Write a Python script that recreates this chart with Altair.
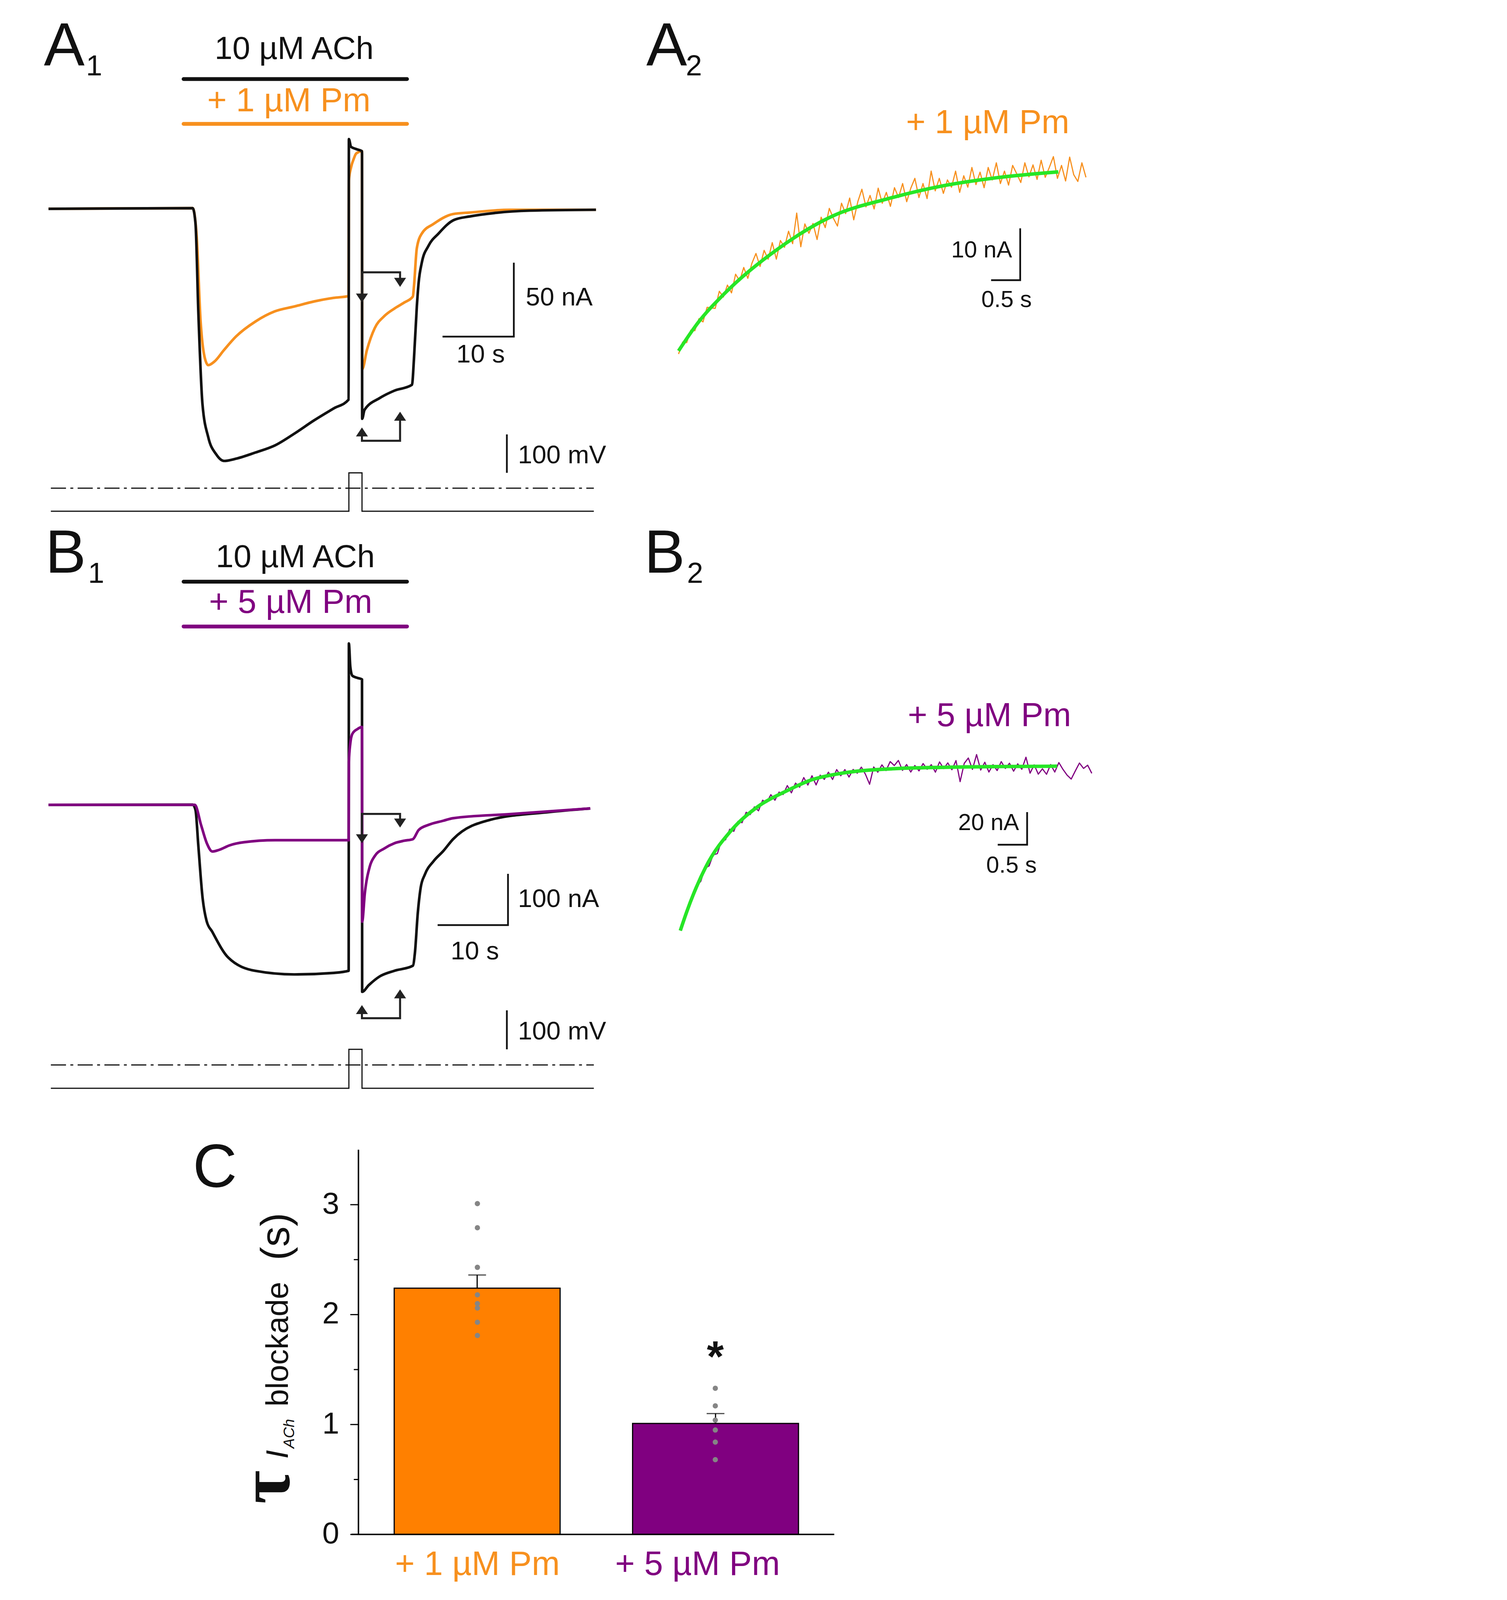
import altair as alt
import pandas as pd

FONT = "Liberation Sans"
SERIF = "Liberation Serif"
ORANGE = "#f7901e"
ORANGE_BAR = "#ff8000"
PURPLE = "#800080"
GREEN = "#26e626"
GREY = "#858585"
INK = "#111111"
ARROW = "#222222"

# ---------------- Panel A1 (time in s, current in nA) ----------------
a1_ach_t = [0, 20.3, 20.7, 21.1, 21.68, 22.5, 23.61, 24.71, 26.39, 29.14, 31.89, 34.63, 37.42, 40.16, 42.27,
            42.3, 42.6, 43.3, 44.15,
            44.17, 44.5, 46.63, 48.69, 51.19, 51.46, 51.87, 52.13, 52.57, 53.52, 54.92, 57.1, 59.47, 62.79, 67.75, 77.1]
a1_ach_i = [0, 0.5, -10, -70, -132, -154.5, -166, -170.5, -169, -164.8, -160, -152, -143, -135, -129,
            47.2, 42, 40.5, 39,
            -142, -136, -128, -123, -119, -102, -66, -49.6, -36.4, -24.9, -16.7, -7.5, -5, -2.8, -1.2, -0.6]
a1_pm_t = [0, 20.3, 20.86, 21.4, 21.97, 22.5, 23.36, 24.71, 26.39, 29.14, 31.89, 34.63, 37.42, 40.16, 42.27,
           42.3, 42.6, 43.0, 43.32, 44.15,
           44.17, 44.84, 45.94, 47.32, 48.69, 50.08, 51.31, 51.46, 51.87, 52.57, 54.22, 56.97, 59.47, 65.0, 77.1]
a1_pm_i = [0, 0.5, -18.3, -75, -100, -105.7, -103.3, -95.5, -86.4, -76.2, -69.3, -66, -62.6, -60.2, -59,
           19.3, 28, 34, 37.4, 39,
           -108.5, -95.5, -80.7, -72.4, -67.5, -63.4, -59.3, -52.8, -26.6, -16.7, -10.2, -3.5, -2.4, -0.6, -0.6]

# ---------------- Panel B1 ----------------
b1_ach_t = [0, 20.3, 20.7, 21.1, 21.7, 22.25, 23.07, 25.3, 29.1, 34.6, 40.2, 42.27,
            42.3, 42.5, 42.8, 43.5, 44.15,
            44.17, 45.1, 46.63, 48.69, 51.31, 51.6, 52.0, 52.42, 53.0, 54.22, 55.6, 56.97, 62.25, 70.5, 76.3]
b1_ach_i = [0, 0.5, -10, -80, -182, -226, -248, -298, -324, -331, -328, -324,
            315, 270, 252, 248, 245,
            -365, -352, -335, -324, -314, -289, -212, -161, -136, -110, -90, -67, -29, -14, -7]
b1_pm_t = [0, 20.6, 21.5, 22.3, 23.07, 24.0, 25.5, 27.5, 31.9, 37.4, 42.27,
           42.3, 42.5, 42.8, 43.5, 44.15,
           44.17, 44.55, 45.25, 45.94, 47.3, 48.69, 50.08, 51.31, 52.13, 53.52, 55.6, 56.97, 65.0, 76.3]
b1_pm_i = [0, 0, -40, -75, -91, -88, -79, -73, -69, -69, -69,
           83.5, 120, 139, 148, 152,
           -228, -172, -120, -100, -85, -75, -70, -67, -49, -39, -31, -26, -18, -7]

# voltage protocol (mV) and drug application (s)
v_t = [0.33, 42.3, 42.3, 44.15, 44.15, 76.8]
v_mv = [-60, -60, 40, 40, -60, -60]
zero_t = [0.33, 76.8]
zero_mv = [0, 0]
app_t = [19.02, 50.49]

# ---------------- Panel A2 / B2 (recovery after step, s / nA) ----------------
A2_DT = 0.07
a2_i = [-0.6, 1.7, 1.6, 4.0, 3.9, 6.2, 5.6, 8.4, 8.3, 8.2,
        11.5, 10.4, 12.7, 11.2, 14.8, 13.5, 16.1, 14.0, 16.9, 18.8,
        16.3, 19.4, 17.7, 20.9, 17.7, 21.3, 20.0, 23.1, 20.7, 26.6,
        20.1, 24.5, 22.7, 24.6, 21.5, 25.8, 23.8, 27.5, 25.6, 24.1,
        28.5, 26.5, 29.5, 25.3, 28.8, 31.2, 27.8, 30.0, 27.4, 31.4,
        28.5, 30.6, 27.9, 31.5, 29.6, 32.3, 28.8, 31.4, 33.3, 29.6,
        32.3, 29.4, 34.7, 30.9, 33.3, 30.4, 33.0, 31.6, 34.7, 30.6,
        33.8, 31.6, 35.4, 32.1, 34.5, 31.5, 35.4, 33.0, 36.3, 32.3,
        34.7, 32.0, 35.8, 34.2, 32.5, 36.3, 33.6, 35.9, 33.1, 36.8,
        33.5, 35.4, 37.5, 33.3, 35.8, 32.8, 37.4, 34.0, 32.7, 36.3,
        33.5]
a2_fit_t = [0, 0.325, 0.79, 1.725, 2.665, 3.6, 4.535, 5.47, 6.525]
a2_fit_i = [0, 5.3, 11.07, 19.83, 26.12, 29.38, 31.85, 33.43, 34.55]

B2_DT = 0.07
b2_i = [0.0, 6.2, 15.2, 19.4, 27.5, 30.3, 38.3, 39.7, 46.5, 47.2,
        54.9, 55.7, 62.2, 60.9, 67.0, 66.2, 72.6, 71.2, 75.9, 73.5,
        80.0, 78.7, 83.4, 80.0, 85.0, 83.5, 89.0, 84.5, 90.5, 88.0,
        93.9, 89.3, 95.0, 89.4, 95.4, 92.8, 97.2, 92.7, 98.8, 95.0,
        98.8, 94.2, 98.9, 96.6, 100.3, 95.9, 89.8, 100.4, 97.2, 101.7,
        98.2, 103.7, 101.3, 104.4, 98.3, 101.9, 97.3, 101.3, 98.0, 102.5,
        99.0, 101.8, 97.2, 103.5, 99.4, 102.9, 98.7, 104.3, 91.4, 102.6,
        105.9, 98.9, 108.0, 98.5, 103.3, 97.3, 101.8, 98.2, 103.7, 99.5,
        102.7, 97.8, 102.3, 99.0, 106.4, 96.6, 101.7, 96.0, 99.3, 95.9,
        101.9, 97.3, 103.1, 98.9, 95.4, 93.0, 98.0, 102.8, 99.5, 101.5,
        96.5]
b2_fit_t = [0, 0.11, 0.43, 0.88, 1.34, 1.79, 2.25, 2.70, 3.61, 4.52, 6.41]
b2_fit_i = [0, 11.6, 38.8, 62.0, 76.6, 85.4, 92.7, 96.3, 99.3, 100.2, 100.9]

# ---------------- Panel C ----------------
conds = ["+ 1 µM Pm", "+ 5 µM Pm"]
tau_mean = [2.24, 1.01]
tau_sem = [0.12, 0.09]
tau_pts_1 = [3.01, 2.79, 2.43, 2.18, 2.10, 2.06, 1.93, 1.81]
tau_pts_5 = [1.33, 1.17, 1.04, 0.95, 0.84, 0.68]
tau_ticks = [0, 1, 2, 3]
tau_minor = [0.5, 1.5, 2.5]
tau_axis = [0, 3.5]

# ---------------- layout: one canvas, each panel has its own scales ----------------
S = 0.745                    # CSS px per reference px (page is rendered magnified)
W, H = 3842 * S, 5262 * S
OA2 = (2142, 0)              # panel origins (reference px)
OB1 = (0, 1782)
OB2 = (2142, 1782)

A1_X = [-6.393, 151.066]
A1_Y = [-896.65, 139.17]
A1_V = [-2723.64, 1262.73]
B1_X = A1_X
B1_Y = [-1424.43, 1565.34]
B1_V = [-1204.03, 2722.84]
A2_X = [-11.605, 7.605]
A2_Y = [-228.48, 67.13]
B2_X = [-11.52, 7.5]
B2_Y = [-370.54, 569.11]
C_Y = [0, 13.931]
C_XRANGE = [1221 * S, 2856 * S]

DOWN = "M -1 -1.5 L 1 -1.5 L 0 0 Z"
UP = "M -1 1.5 L 1 1.5 L 0 0 Z"


def sc(dom):
    return alt.Scale(domain=dom, zero=False, nice=False)


def one():
    return alt.Chart(pd.DataFrame({"a": [0]}))


def txt(text, x, y, size, color=INK, align="left", angle=0, style="normal",
        weight="normal", font=FONT, o=(0, 0)):
    return one().mark_text(text=text, fontSize=size * S, color=color, align=align,
                           angle=angle, fontStyle=style, fontWeight=weight,
                           font=font, baseline="alphabetic").encode(
        x=alt.value((x + o[0]) * S), y=alt.value((y + o[1]) * S))


def poly(t, y, xdom, ydom, color, width, dash=None, interp=None, join="round"):
    df = pd.DataFrame({"t": t, "y": y, "i": list(range(len(t)))})
    mk = dict(color=color, strokeWidth=width * S, strokeJoin=join)
    if dash:
        mk["strokeDash"] = [d * S for d in dash]
    if interp:
        mk["interpolate"] = interp
    return alt.Chart(df).mark_line(**mk).encode(
        x=alt.X("t:Q", scale=sc(xdom), axis=None),
        y=alt.Y("y:Q", scale=sc(ydom), axis=None),
        order="i:Q")


def heads(t, y, xdom, ydom, shape):
    df = pd.DataFrame({"t": t, "y": y})
    return alt.Chart(df).mark_point(shape=shape, size=1700 * S * S, filled=True, color=ARROW,
                                    opacity=1, strokeWidth=0).encode(
        x=alt.X("t:Q", scale=sc(xdom), axis=None),
        y=alt.Y("y:Q", scale=sc(ydom), axis=None))


def app_bar(ts, color, ypix, xdom):
    df = pd.DataFrame({"t0": [ts[0]], "t1": [ts[1]]})
    return alt.Chart(df).mark_rule(color=color, strokeWidth=13 * S, strokeCap="round").encode(
        x=alt.X("t0:Q", scale=sc(xdom), axis=None), x2="t1:Q", y=alt.value(ypix * S))


# ---------- A1 ----------
A1 = [
    app_bar(app_t, INK, 261, A1_X),
    app_bar(app_t, ORANGE, 415, A1_X),
    poly(a1_pm_t, a1_pm_i, A1_X, A1_Y, ORANGE, 9, interp="monotone"),
    poly(a1_ach_t, a1_ach_i, A1_X, A1_Y, INK, 9, interp="monotone"),
    poly([44.14, 44.14, 49.51, 49.51], [-57.5, -42.91, -42.91, -46.9], A1_X, A1_Y, ARROW, 7, join="miter"),
    heads([44.14, 49.51], [-63.39, -52.76], A1_X, A1_Y, DOWN),
    poly([44.14, 44.14, 49.51, 49.51], [-153.7, -156.89, -156.89, -143.1], A1_X, A1_Y, ARROW, 7, join="miter"),
    heads([44.14, 49.51], [-147.83, -137.2], A1_X, A1_Y, UP),
    poly([55.49, 65.53, 65.53], [-86.42, -86.42, -36.42], A1_X, A1_Y, INK, 6, join="miter"),
    poly(v_t, v_mv, A1_X, A1_V, INK, 4, join="miter"),
    poly(zero_t, zero_mv, A1_X, A1_V, INK, 4, dash=[52, 15, 10, 15]),
    poly([64.55, 64.55], [40, 140], A1_X, A1_V, INK, 6),
    txt("A", 140, 214, 210),
    txt("1", 285, 248, 100),
    txt("10 µM ACh", 1000, 192, 110, align="center"),
    txt("+ 1 µM Pm", 982, 372, 115, color=ORANGE, align="center"),
    txt("50 nA", 1796, 1039, 88),
    txt("10 s", 1641, 1235, 88, align="center"),
    txt("100 mV", 1769, 1581, 88),
]

# ---------- A2 ----------
a2_t = [k * A2_DT for k in range(len(a2_i))]
A2 = [
    poly(a2_t, a2_i, A2_X, A2_Y, ORANGE, 4),
    poly(a2_fit_t, a2_fit_i, A2_X, A2_Y, GREEN, 12, interp="monotone"),
    poly([5.37, 5.87, 5.87], [13.65, 13.65, 23.65], A2_X, A2_Y, INK, 6, join="miter"),
    txt("A", 68, 214, 210, o=OA2),
    txt("2", 204, 248, 100, o=OA2),
    txt("+ 1 µM Pm", 1522, 447, 115, color=ORANGE, align="right", o=OA2),
    txt("10 nA", 1325, 874, 80, align="right", o=OA2),
    txt("0.5 s", 1306, 1044, 80, align="center", o=OA2),
]

# ---------- B1 ----------
B1 = [
    app_bar(app_t, INK, 206 + OB1[1], B1_X),
    app_bar(app_t, PURPLE, 360 + OB1[1], B1_X),
    poly(b1_ach_t, b1_ach_i, B1_X, B1_Y, INK, 9, interp="monotone"),
    poly(b1_pm_t, b1_pm_i, B1_X, B1_Y, PURPLE, 9, interp="monotone"),
    poly([44.14, 44.14, 49.51, 49.51], [-58, -17.61, -17.61, -27.3], B1_X, B1_Y, ARROW, 7, join="miter"),
    heads([44.14, 49.51], [-75, -44.3], B1_X, B1_Y, DOWN),
    poly([44.14, 44.14, 49.51, 49.51], [-407.9, -416.5, -416.5, -377.2], B1_X, B1_Y, ARROW, 7, join="miter"),
    heads([44.14, 49.51], [-390.9, -360.2], B1_X, B1_Y, UP),
    poly([54.8, 64.71, 64.71], [-234.66, -234.66, -134.66], B1_X, B1_Y, INK, 6, join="miter"),
    poly(v_t, v_mv, B1_X, B1_V, INK, 4, join="miter"),
    poly(zero_t, zero_mv, B1_X, B1_V, INK, 4, dash=[52, 15, 10, 15]),
    poly([64.55, 64.55], [40, 140], B1_X, B1_V, INK, 6),
    txt("B", 145, 175, 210, o=OB1),
    txt("1", 292, 210, 100, o=OB1),
    txt("10 µM ACh", 1004, 156, 110, align="center", o=OB1),
    txt("+ 5 µM Pm", 988, 313, 115, color=PURPLE, align="center", o=OB1),
    txt("100 nA", 1769, 1324, 88, o=OB1),
    txt("10 s", 1621, 1504, 88, align="center", o=OB1),
    txt("100 mV", 1769, 1779, 88, o=OB1),
]

# ---------- B2 ----------
b2_t = [k * B2_DT for k in range(len(b2_i))]
B2 = [
    poly(b2_t, b2_i, B2_X, B2_Y, PURPLE, 4),
    poly(b2_fit_t, b2_fit_i, B2_X, B2_Y, GREEN, 12, interp="monotone"),
    poly([5.40, 5.90, 5.90], [52.68, 52.68, 72.68], B2_X, B2_Y, INK, 6, join="miter"),
    txt("B", 61, 175, 210, o=OB2),
    txt("2", 208, 210, 100, o=OB2),
    txt("+ 5 µM Pm", 1528, 703, 115, color=PURPLE, align="right", o=OB2),
    txt("20 nA", 1349, 1060, 80, align="right", o=OB2),
    txt("0.5 s", 1323, 1206, 80, align="center", o=OB2),
]

# ---------- C (bar chart) ----------
bar_df = pd.DataFrame({"cond": conds, "mean": tau_mean, "sem": tau_sem})
pts_df = pd.DataFrame({"cond": [conds[0]] * len(tau_pts_1) + [conds[1]] * len(tau_pts_5),
                       "v": tau_pts_1 + tau_pts_5})
XC = alt.X("cond:N", sort=conds, axis=None,
           scale=alt.Scale(domain=conds, range=C_XRANGE, paddingInner=0.304, paddingOuter=0.15))
YS = sc(C_Y)
AXIS_X = C_XRANGE[0]

bars = alt.Chart(bar_df).mark_bar(stroke="black", strokeWidth=4 * S).encode(
    x=XC, y=alt.Y("mean:Q", scale=YS, axis=None), y2=alt.Y2(datum=0),
    color=alt.Color("cond:N", scale=alt.Scale(domain=conds, range=[ORANGE_BAR, PURPLE]), legend=None))
err = alt.Chart(bar_df).transform_calculate(top="datum.mean + datum.sem").mark_rule(
    color="black", strokeWidth=4 * S).encode(x=XC, y=alt.Y("mean:Q", scale=YS, axis=None), y2="top:Q")
cap = alt.Chart(bar_df).transform_calculate(top="datum.mean + datum.sem").mark_tick(
    color="black", orient="horizontal", size=61 * S, thickness=4 * S).encode(
    x=XC, y=alt.Y("top:Q", scale=YS, axis=None))
dots = alt.Chart(pts_df).mark_circle(size=330 * S * S, color=GREY, opacity=1).encode(
    x=XC, y=alt.Y("v:Q", scale=YS, axis=None))
ydomain = alt.Chart(pd.DataFrame({"lo": [tau_axis[0]], "hi": [tau_axis[1]]})).mark_rule(
    color="black", strokeWidth=5 * S).encode(
    x=alt.value(AXIS_X), y=alt.Y("lo:Q", scale=YS, axis=None), y2="hi:Q")
major = alt.Chart(pd.DataFrame({"m": tau_ticks})).mark_rule(color="black", strokeWidth=4 * S).encode(
    y=alt.Y("m:Q", scale=YS, axis=None), x=alt.value(AXIS_X - 28 * S), x2=alt.value(AXIS_X))
minor = alt.Chart(pd.DataFrame({"m": tau_minor})).mark_rule(color="black", strokeWidth=4 * S).encode(
    y=alt.Y("m:Q", scale=YS, axis=None), x=alt.value(AXIS_X - 16 * S), x2=alt.value(AXIS_X))
ticklab = alt.Chart(pd.DataFrame({"m": tau_ticks})).mark_text(
    fontSize=105 * S, font=FONT, color=INK, align="right", baseline="middle").encode(
    y=alt.Y("m:Q", scale=YS, axis=None), x=alt.value(AXIS_X - 66 * S), text=alt.Text("m:Q", format="d"))
baseline = alt.Chart(pd.DataFrame({"z": [0]})).mark_rule(color="black", strokeWidth=5 * S).encode(
    y=alt.Y("z:Q", scale=YS, axis=None), x=alt.value(AXIS_X - 24 * S), x2=alt.value(C_XRANGE[1]))
star = alt.Chart(pd.DataFrame({"cond": [conds[1]], "s": [1.59]})).mark_text(
    text="*", fontSize=150 * S, fontWeight="bold", font=FONT, color=INK, baseline="alphabetic",
    dy=40 * S).encode(x=XC, y=alt.Y("s:Q", scale=YS, axis=None))
lab1 = alt.Chart(pd.DataFrame({"cond": [conds[0]]})).mark_text(
    fontSize=116 * S, font=FONT, color=ORANGE, baseline="alphabetic").encode(
    x=XC, y=alt.value(5401 * S), text="cond:N")
lab2 = alt.Chart(pd.DataFrame({"cond": [conds[1]]})).mark_text(
    fontSize=116 * S, font=FONT, color=PURPLE, baseline="alphabetic", dx=-61 * S).encode(
    x=XC, y=alt.value(5401 * S), text="cond:N")

C = [
    bars, err, cap, dots, ydomain, major, minor, ticklab, baseline, star, lab1, lab2,
    txt("C", 652, 4067, 210),
    txt("τ", 982, 5157, 250, angle=270, font=SERIF, weight="bold"),
    txt("I", 978, 5002, 108, angle=270, style="italic"),
    txt("ACh", 1000, 4966, 52, angle=270, style="italic"),
    txt("blockade", 978, 4822, 107, angle=270),
    txt("(s)", 982, 4320, 140, angle=270),
]

chart = alt.layer(*(A1 + A2 + B1 + B2 + C)).resolve_scale(
    x="independent", y="independent", color="independent").properties(
    width=W, height=H, padding=0, background="white").configure_view(strokeWidth=0)

chart.save("out.html", embed_options={"renderer": "svg", "actions": False})
